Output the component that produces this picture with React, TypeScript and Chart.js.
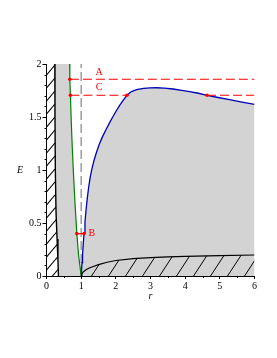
import { useEffect, useRef } from "react";
import { Chart, registerables } from "chart.js";
Chart.register(...registerables);

// ---- data (r, E) ----
const blueR = [1.0, 1.01, 1.025, 1.04, 1.06, 1.085, 1.11, 1.14, 1.175, 1.215, 1.26, 1.31, 1.37, 1.44, 1.52, 1.61, 1.71, 1.81, 1.91, 2.01, 2.11, 2.2, 2.32, 2.45, 2.6, 2.8, 3.0, 3.17, 3.4, 3.65, 3.9, 4.13, 4.38, 4.63, 4.95, 5.28, 5.64, 6.0];
const blueE = [0.0, 0.05, 0.125, 0.2, 0.3, 0.41, 0.51, 0.62, 0.73, 0.835, 0.93, 1.01, 1.09, 1.165, 1.24, 1.31, 1.377, 1.44, 1.5, 1.557, 1.61, 1.652, 1.705, 1.74, 1.758, 1.77, 1.775, 1.776, 1.773, 1.764, 1.752, 1.74, 1.724, 1.705, 1.684, 1.663, 1.641, 1.62];

const greenR = [0.668, 0.673, 0.69, 0.715, 0.745, 0.78, 0.82, 0.875, 0.925, 1.0];
const greenE = [2.0, 1.856, 1.705, 1.45, 1.2, 0.95, 0.7, 0.4, 0.2, 0.0];

const wallR = [0.24, 0.245, 0.255, 0.275, 0.305, 0.33, 0.345];
const wallE = [2.0, 1.5, 1.0, 0.6, 0.35, 0.15, 0.0];

const floorR = [1.0, 1.02, 1.05, 1.1, 1.15, 1.25, 1.35, 1.5, 1.75, 2.0, 2.5, 3.0, 3.5, 4.0, 5.0, 6.0];
const floorE = [0.0, 0.018, 0.035, 0.05, 0.062, 0.078, 0.09, 0.107, 0.13, 0.146, 0.163, 0.174, 0.181, 0.186, 0.193, 0.198];

const horizonR = [1, 1];
const horizonE = [0, 2];

const levelA_R = [0.673, 6];
const levelA_E = 1.856;
const levelC1_R = [0.69, 2.32];
const levelC2_R = [4.63, 6];
const levelC_E = 1.705;
const levelB_R = [0.875, 1.083];
const levelB_E = 0.4;

const labelText = ["A", "C", "B"];
const labelR = [1.515, 1.52, 1.31];
const labelE = [1.92, 1.78, 0.405];

const xTickValues = [0, 1, 2, 3, 4, 5, 6];
const xTickLabels = ["0", "1", "2", "3", "4", "5", "6"];
const yTickValues = [0, 0.5, 1, 1.5, 2];
const yTickLabels = ["0", "0.5", "1", "1.5", "2"];
const xMinorTicks = [0.5, 1.5, 2.5, 3.5, 4.5, 5.5];
const yMinorTicks = [0.1, 0.2, 0.3, 0.4, 0.6, 0.7, 0.8, 0.9, 1.1, 1.2, 1.3, 1.4, 1.6, 1.7, 1.8, 1.9];

const FONT = "'Liberation Serif', 'Times New Roman', serif";

const pts = (rs: number[], es: number[]) => rs.map((r, i) => ({ x: r, y: es[i] }));

export default function App() {
  const ref = useRef<HTMLCanvasElement | null>(null);

  useEffect(() => {
    const canvas = ref.current!;
    const mainCtx = canvas.getContext("2d")!;

    const makeHatch = (w: number, h: number, lw: number) => {
      const c = document.createElement("canvas");
      c.width = w;
      c.height = h;
      const g = c.getContext("2d")!;
      g.strokeStyle = "#000";
      g.lineWidth = lw;
      for (const k of [-1, 0, 1]) {
        g.beginPath();
        g.moveTo(k * w, h);
        g.lineTo(k * w + w, 0);
        g.stroke();
      }
      return mainCtx.createPattern(c, "repeat")!;
    };
    const hatchLeft = makeHatch(11, 13, 1.1);
    const hatchBottom = makeHatch(17, 26, 1.0);

    const green = pts(greenR, greenE);
    const blue = pts(blueR, blueE);
    const wall = pts(wallR, wallE);
    const floor = pts(floorR, floorE);

    const grayPoly = [
      ...green,
      ...blue,
      { x: blueR[blueR.length - 1], y: 0 },
      ...wall.slice().reverse(),
    ];
    const leftPoly = [{ x: 0, y: wallE[0] }, ...wall, { x: 0, y: 0 }];
    const bottomPoly = [...floor, { x: floorR[floorR.length - 1], y: 0 }];

    const base = { type: "line" as const, pointRadius: 0, tension: 0 };
    const polyDs = (data: any[], bg: any, order: number) => ({
      ...base,
      data,
      fill: "shape",
      backgroundColor: bg,
      borderColor: "rgba(0,0,0,0)",
      borderWidth: 1,
      order,
    });
    const lineDs = (data: any[], color: string, width: number, order: number, extra: any = {}) => ({
      ...base,
      data,
      fill: false,
      borderColor: color,
      borderWidth: width,
      order,
      ...extra,
    });
    const red = "#ff0000";
    const redDs = (rs: number[], e: number, radii: number[], dash: number[]) =>
      lineDs(pts(rs, rs.map(() => e)), red, 1.2, 1, {
        borderDash: dash,
        pointRadius: radii,
        pointBackgroundColor: red,
        pointBorderWidth: 0,
      });

    const textPlugin = {
      id: "texts",
      afterDraw(chart: any) {
        const { ctx, scales, chartArea } = chart;
        const sx = scales.x;
        const sy = scales.y;
        ctx.save();
        // minor ticks
        ctx.strokeStyle = "#000";
        ctx.lineWidth = 1;
        for (const v of yMinorTicks) {
          const py = Math.round(sy.getPixelForValue(v)) + 0.5;
          ctx.beginPath();
          ctx.moveTo(chartArea.left - 2, py);
          ctx.lineTo(chartArea.left, py);
          ctx.stroke();
        }
        for (const v of xMinorTicks) {
          const px = Math.round(sx.getPixelForValue(v)) + 0.5;
          ctx.beginPath();
          ctx.moveTo(px, chartArea.bottom);
          ctx.lineTo(px, chartArea.bottom + 2);
          ctx.stroke();
        }
        // level labels
        ctx.fillStyle = red;
        ctx.font = `10px ${FONT}`;
        ctx.textAlign = "center";
        ctx.textBaseline = "middle";
        labelText.forEach((t, i) => {
          ctx.fillText(t, sx.getPixelForValue(labelR[i]), sy.getPixelForValue(labelE[i]));
        });
        // axis titles
        ctx.fillStyle = "#000";
        ctx.font = `italic 10px ${FONT}`;
        ctx.fillText("E", 20, (chartArea.top + chartArea.bottom) / 2);
        ctx.fillText("r", (chartArea.left + chartArea.right) / 2, 296);
        ctx.restore();
      },
    };

    const chart = new Chart(canvas, {
      type: "line",
      data: {
        datasets: [
          polyDs(grayPoly, "#d3d3d3", 10),
          polyDs(leftPoly, hatchLeft, 9),
          polyDs(bottomPoly, hatchBottom, 9),
          lineDs(pts(horizonR, horizonE), "#8c8c8c", 1.3, 8, { borderDash: [9, 4] }),
          lineDs(wall, "#000", 1.4, 5),
          lineDs(floor, "#000", 1.2, 5),
          lineDs(green, "#008000", 1.2, 5),
          lineDs(blue, "#0000b4", 1.3, 5),
          redDs(levelA_R, levelA_E, [1.8, 0], [9, 4]),
          redDs(levelC1_R, levelC_E, [1.8, 1.8], [9, 4]),
          redDs(levelC2_R, levelC_E, [1.8, 0], [9, 4]),
          redDs(levelB_R, levelB_E, [1.8, 1.8], []),
        ] as any,
      },
      options: {
        animation: false,
        responsive: false,
        events: [],
        layout: { padding: { top: 64, right: 22.5, bottom: 0, left: 0 } },
        plugins: { legend: { display: false }, tooltip: { enabled: false } },
        scales: {
          x: {
            type: "linear",
            min: 0,
            max: 6,
            afterBuildTicks: (s: any) => {
              s.ticks = xTickValues.map((v) => ({ value: v }));
            },
            afterFit: (s: any) => {
              s.height = 82;
            },
            ticks: {
              color: "#000",
              font: { family: FONT, size: 10 },
              padding: 1,
              maxRotation: 0,
              autoSkip: false,
              callback: (v: any) => xTickLabels[xTickValues.indexOf(Number(v))] ?? "",
            },
            grid: { drawOnChartArea: false, drawTicks: true, tickLength: 3, color: "#000" },
            border: { display: true, color: "#000", width: 1 },
          },
          y: {
            type: "linear",
            min: 0,
            max: 2,
            afterBuildTicks: (s: any) => {
              s.ticks = yTickValues.map((v) => ({ value: v }));
            },
            afterFit: (s: any) => {
              s.width = 46.5;
            },
            ticks: {
              color: "#000",
              font: { family: FONT, size: 10 },
              padding: 1,
              autoSkip: false,
              callback: (v: any) => yTickLabels[yTickValues.indexOf(Number(v))] ?? "",
            },
            grid: { drawOnChartArea: false, drawTicks: true, tickLength: 4, color: "#000" },
            border: { display: true, color: "#000", width: 1 },
          },
        },
      } as any,
      plugins: [textPlugin],
    });
    return () => chart.destroy();
  }, []);

  return (
    <div style={{ position: "fixed", left: 0, top: 0, width: 277, height: 358, background: "#fff" }}>
      <canvas ref={ref} width={277} height={358} style={{ display: "block", width: 277, height: 358 }} />
    </div>
  );
}
